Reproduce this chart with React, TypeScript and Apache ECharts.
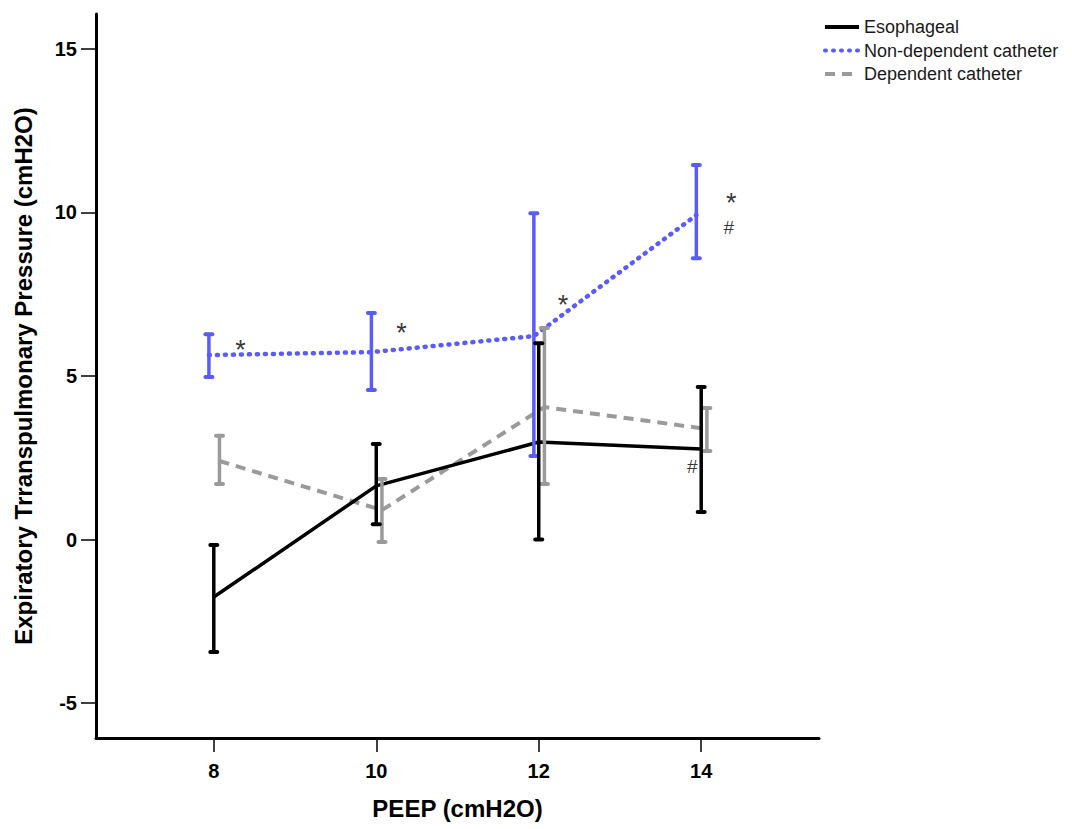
import React, { useEffect, useRef } from "react";
import * as echarts from "echarts";

// ---- data ----
const peep = [8, 10, 12, 14];
const xTicks = [8, 10, 12, 14];
const yTicks = [-5, 0, 5, 10, 15];

const seriesNames = ["Esophageal", "Non-dependent catheter", "Dependent catheter"];

const esoMean = [-1.76, 1.64, 2.98, 2.77];
const esoLow = [-3.44, 0.47, 0.0, 0.84];
const esoHigh = [-0.17, 2.92, 6.0, 4.66];

const nonDepMean = [5.64, 5.73, 6.22, 9.92];
const nonDepLow = [4.97, 4.57, 2.55, 8.6];
const nonDepHigh = [6.28, 6.93, 9.98, 11.45];

const depMean = [2.4, 0.9, 4.05, 3.38];
const depLow = [1.7, -0.08, 1.7, 2.71];
const depHigh = [3.17, 1.85, 6.47, 4.02];

const starMarks = [
  [8.33, 5.95],
  [10.31, 6.47],
  [12.3, 7.32],
  [14.37, 10.44],
];
const hashMarks = [
  [14.34, 9.55],
  [13.89, 2.22],
];

// ---- styles ----
const FONT = "Liberation Sans, Arial, sans-serif";
const BLACK = "#000000";
const BLUE = "#5a5aff";
const GREY = "#9a9a9a";

function buildLine(name: string, mean: number[], off: number, color: string, lineStyle: any, z: number) {
  return {
    name,
    type: "line",
    data: peep.map((x, i) => [x + off, mean[i]]),
    symbol: "none",
    lineStyle: { color, ...lineStyle },
    itemStyle: { color },
    z,
  };
}

function buildErr(low: number[], high: number[], off: number, color: string, z: number) {
  return {
    type: "custom",
    data: peep.map((x, i) => [x + off, low[i], high[i]]),
    encode: { x: 0, y: [1, 2] },
    z,
    renderItem: (params: any, api: any) => {
      const x = api.value(0);
      const lo = api.coord([x, api.value(1)]);
      const hi = api.coord([x, api.value(2)]);
      const cap = 3.5;
      return {
        type: "group",
        children: [
          { type: "line", shape: { x1: lo[0], y1: lo[1], x2: hi[0], y2: hi[1] }, style: { stroke: color, lineWidth: 3.5 } },
          { type: "line", shape: { x1: lo[0] - cap, y1: lo[1], x2: lo[0] + cap, y2: lo[1] }, style: { stroke: color, lineWidth: 4, lineCap: "round" } },
          { type: "line", shape: { x1: hi[0] - cap, y1: hi[1], x2: hi[0] + cap, y2: hi[1] }, style: { stroke: color, lineWidth: 4, lineCap: "round" } },
        ],
      };
    },
  };
}

function buildMarks(points: number[][], text: string, fontSize: number, dy: number) {
  return {
    type: "scatter",
    data: points,
    symbolSize: 0,
    silent: true,
    z: 20,
    label: {
      show: true,
      position: "inside",
      formatter: () => text,
      fontSize,
      lineHeight: 16,
      fontFamily: FONT,
      color: "#000",
      offset: [0, dy],
    },
  };
}

export default function App() {
  const ref = useRef<HTMLDivElement>(null);
  useEffect(() => {
    if (!ref.current) return;
    const chart = echarts.init(ref.current, null, { renderer: "svg" });
    chart.setOption({
      animation: false,
      backgroundColor: "#ffffff",
      grid: { left: 96, right: 253, top: 14, bottom: 91, containLabel: false },
      legend: {
        data: seriesNames,
        orient: "vertical",
        left: 823,
        top: 18,
        padding: 0,
        itemWidth: 34,
        itemHeight: 14,
        itemGap: 5.5,
        itemStyle: { opacity: 0 },
        lineStyle: { width: 4 },
        textStyle: { fontFamily: FONT, fontSize: 18, lineHeight: 18, color: "#1a1a1a" },
      },
      xAxis: {
        type: "value",
        min: 6.55,
        max: 15.45,
        name: "PEEP (cmH2O)",
        nameLocation: "middle",
        nameGap: 58,
        nameTextStyle: { fontFamily: FONT, fontSize: 24, fontWeight: "bold", color: "#000" },
        axisLine: { show: true, onZero: false, lineStyle: { color: BLACK, width: 3 } },
        axisTick: { show: true, customValues: xTicks, length: 14, lineStyle: { color: BLACK, width: 1.5 } },
        axisLabel: { customValues: xTicks, margin: 23, fontFamily: FONT, fontSize: 20, fontWeight: "bold", color: "#000" },
        splitLine: { show: false },
      },
      yAxis: {
        type: "value",
        min: -6.07,
        max: 16.07,
        name: "Expiratory Trranspulmonary Pressure (cmH2O)",
        nameLocation: "middle",
        nameGap: 61,
        nameTextStyle: { fontFamily: FONT, fontSize: 24, fontWeight: "bold", color: "#000" },
        axisLine: { show: true, onZero: false, lineStyle: { color: BLACK, width: 3 } },
        axisTick: { show: true, customValues: yTicks, length: 15, lineStyle: { color: BLACK, width: 1.5 } },
        axisLabel: { customValues: yTicks, margin: 19, fontFamily: FONT, fontSize: 20, fontWeight: "bold", color: "#000" },
        splitLine: { show: false },
      },
      series: [
        buildLine(seriesNames[0], esoMean, 0, BLACK, { width: 3.5, type: "solid" }, 5),
        buildLine(seriesNames[1], nonDepMean, -0.06, BLUE, { width: 4.5, type: [1, 7], cap: "round" }, 4),
        buildLine(seriesNames[2], depMean, 0.07, GREY, { width: 4, type: [10, 7] }, 3),
        buildErr(depLow, depHigh, 0.07, GREY, 6),
        buildErr(nonDepLow, nonDepHigh, -0.06, BLUE, 7),
        buildErr(esoLow, esoHigh, 0, BLACK, 8),
        buildMarks(starMarks, "*", 27, 5),
        buildMarks(hashMarks, "#", 19, 0),
      ],
    });
    return () => chart.dispose();
  }, []);
  return <div ref={ref} style={{ position: "absolute", left: 0, top: 0, width: 1072, height: 829 }} />;
}
